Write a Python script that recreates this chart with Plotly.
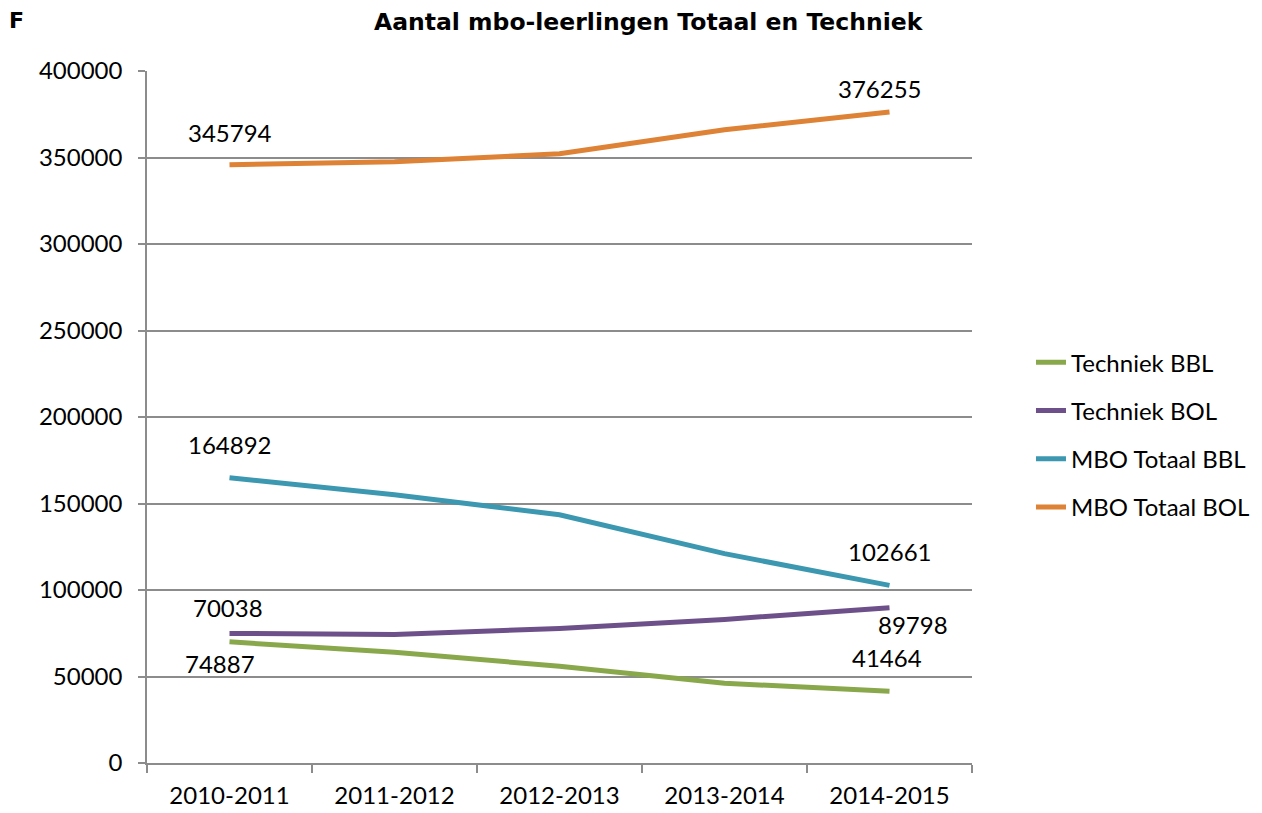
import plotly.graph_objects as go

years = ['2010-2011', '2011-2012', '2012-2013', '2013-2014', '2014-2015']
techniek_bbl = [70038, 64000, 55900, 46100, 41464]
techniek_bol = [74887, 74300, 77800, 83000, 89798]
mbo_totaal_bbl = [164892, 155000, 143500, 121000, 102661]
mbo_totaal_bol = [345794, 347500, 352200, 366000, 376255]

series = [
    ('Techniek BBL', techniek_bbl, '#89A84B'),
    ('Techniek BOL', techniek_bol, '#6D5089'),
    ('MBO Totaal BBL', mbo_totaal_bbl, '#3C98B0'),
    ('MBO Totaal BOL', mbo_totaal_bol, '#DE8236'),
]

font = 'Lato'
fsize = 24
fig = go.Figure()
for i, (name, vals, col) in enumerate(series):
    fig.add_trace(go.Scatter(
        x=years, y=vals, name=name, mode='lines',
        line=dict(color=col, width=5),
        legendgroup=str(i),
    ))

# data labels as they sit in the original (first and last point)
labels = [
    (years[0], mbo_totaal_bol[0], str(mbo_totaal_bol[0]), 0, 32),
    (years[-1], mbo_totaal_bol[-1], str(mbo_totaal_bol[-1]), -10, 24),
    (years[0], mbo_totaal_bbl[0], str(mbo_totaal_bbl[0]), 0, 33),
    (years[-1], mbo_totaal_bbl[-1], str(mbo_totaal_bbl[-1]), 0, 34),
    (years[0], techniek_bbl[0], str(techniek_bbl[0]), -2, 34),
    (years[0], techniek_bol[0], str(techniek_bol[0]), -10, -30),
    (years[-1], techniek_bol[-1], str(techniek_bol[-1]), 23, -17),
    (years[-1], techniek_bbl[-1], str(techniek_bbl[-1]), -3, 34),
]
for x, y, txt, xs, ys in labels:
    fig.add_annotation(x=x, y=y, text=txt, showarrow=False,
                       xshift=xs, yshift=ys,
                       font=dict(family=font, size=fsize, color='black'))

fig.add_annotation(text='<b>Aantal mbo-leerlingen Totaal en Techniek</b>',
                   xref='paper', yref='paper', x=0.608, y=1.0, yshift=65,
                   showarrow=False, font=dict(family='DejaVu Sans', size=23.5, color='black'))
fig.add_annotation(text='<b>F</b>', xref='paper', yref='paper', x=-0.17, y=1.0, yshift=65,
                   showarrow=False, font=dict(family='DejaVu Sans', size=22, color='black'))

fig.update_layout(
    width=1262, height=813,
    margin=dict(l=139, r=298, t=63, b=56),
    plot_bgcolor='white', paper_bgcolor='white',
    font=dict(family=font, size=fsize, color='black'),
    showlegend=True,
    legend=dict(x=1.0715, y=0.611, yanchor='top', xanchor='left',
                tracegroupgap=14, font=dict(family=font, size=fsize)),
    xaxis=dict(type='category', showgrid=False, showline=True, linecolor='#8c8c8c',
               linewidth=1.5, ticks='outside', tickson='boundaries', ticklen=8,
               tickcolor='#8c8c8c', tickwidth=1.5, range=[-0.5, 4.5],
               ticklabelstandoff=10),
    yaxis=dict(range=[0, 400000], dtick=50000, showgrid=True, gridcolor='#8c8c8c',
               gridwidth=1.5, showline=True, linecolor='#8c8c8c', linewidth=1.5,
               ticks='outside', ticklen=7, tickcolor='#8c8c8c', tickwidth=1.5,
               tickformat='d', zeroline=False, ticklabelstandoff=11),
)

fig.write_html('out.html')
